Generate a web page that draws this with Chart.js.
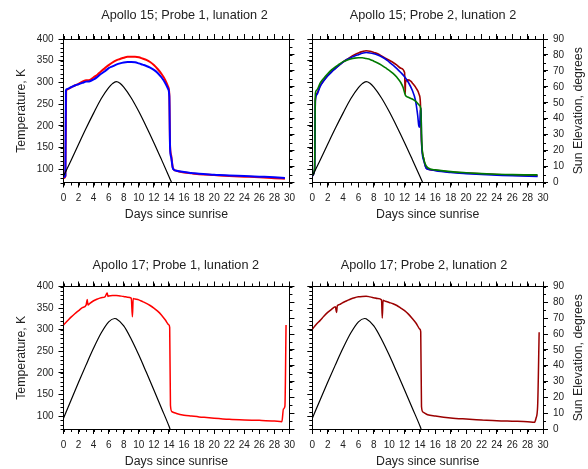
<!DOCTYPE html>
<html lang="en">
<head>
<meta charset="UTF-8">
<title>Apollo 15 / 17 heat flow probes, lunation 2</title>
<script src="https://cdn.jsdelivr.net/npm/chart.js"></script>
<style>
  body { margin: 0; background: #fff; }
  #wrap { position: relative; width: 588px; height: 469px; }
  canvas { position: absolute; }
</style>
</head>
<body>
<div id="wrap">
  <canvas id="a15p1" width="300" height="234" style="left:0px;top:0px"></canvas>
  <canvas id="a15p2" width="288" height="234" style="left:300px;top:0px"></canvas>
  <canvas id="a17p1" width="300" height="234" style="left:0px;top:235px"></canvas>
  <canvas id="a17p2" width="288" height="234" style="left:300px;top:235px"></canvas>
</div>

<script>
// tick labels
const dayTicks = [0, 2, 4, 6, 8, 10, 12, 14, 16, 18, 20, 22, 24, 26, 28, 30];
const tempTicks = [100, 150, 200, 250, 300, 350, 400];
const elevTicks = [0, 10, 20, 30, 40, 50, 60, 70, 80, 90];

// [day, K]
const a15p1Red = [[0,80],[0.25,84],[0.35,280],[0.5,284],[1,289],[1.5,293],[2,297],[2.5,302],[3,305],[3.5,306],[4,312],[4.5,318],[5,326],[5.5,333],[6,340],[6.5,346],[7,351],[7.5,354],[8,357],[8.5,359],[9,359],[9.5,359],[10,358],[10.5,355],[11,352],[11.5,347],[12,340],[12.5,331],[13,320],[13.5,306],[13.9,290],[14.05,272],[14.15,155],[14.3,132],[14.5,105],[14.7,99],[15,97],[16,93],[17,91],[18,89],[20,87],[22,85],[24,83.5],[26,82],[28,80],[29.4,78.5]];
const a15p1Blue = [[0,82],[0.25,86],[0.32,282],[0.5,285],[1,289],[1.5,293],[2,296],[2.5,299],[3,302],[3.5,303],[4,307],[4.5,313],[5,320],[5.5,326],[6,333],[6.5,337],[7,341],[7.5,344],[8,346],[8.5,347],[9,347],[9.5,346.5],[10,344],[10.5,341],[11,338],[11.5,334],[12,329],[12.5,322],[13,312],[13.5,299],[13.9,285],[14.05,268],[14.15,150],[14.3,128],[14.5,104],[14.7,99],[15,97],[16,94],[17,92],[18,90],[20,88],[22,86],[24,85],[26,83.5],[28,82],[29.4,80.5]];

const a15p2Red = [[0,85],[0.3,100],[0.4,262],[0.6,275],[1,292],[1.5,305],[2,316],[2.5,325],[3,333],[3.5,340],[4,347],[4.5,353],[5,359],[5.5,364],[6,368],[6.5,371],[7,373],[7.5,372],[8,369],[8.5,366],[9,361],[9.5,356],[10,351],[10.5,346],[11,340],[11.5,333],[12,323],[12.08,274],[12.12,300],[12.4,306],[12.8,303],[13,299],[13.5,287],[13.9,272],[14.05,255],[14.2,165],[14.5,124],[14.8,104],[15.2,100],[16,98],[18,94],[20,92],[22,90],[24,88.5],[26,87],[29.3,85.5]];
const a15p2Blue = [[0,85],[0.3,100],[0.4,258],[0.6,272],[1,290],[1.5,304],[2,315],[2.5,324],[3,332],[3.5,340],[4,347],[4.5,353],[5,357],[5.5,361],[6,364],[6.5,367],[7,369],[7.5,368],[8,366],[8.5,363],[9,359],[9.5,354],[10,347],[10.5,340],[11,332],[11.5,323],[12,313],[12.5,300],[13,282],[13.4,260],[13.7,225],[13.85,200],[13.95,197],[14.05,235],[14.15,240],[14.2,165],[14.5,120],[14.8,103],[15.2,100],[16,97],[18,93],[20,90.5],[22,88.5],[24,87],[26,85.5],[29.3,84]];
const a15p2Green = [[0,87],[0.3,102],[0.4,275],[0.6,283],[1,298],[1.5,310],[2,320],[2.5,329],[3,336],[3.5,342],[4,348],[4.5,351],[5,354],[5.5,356],[6,357],[6.5,357],[7,355],[7.5,353],[8,349],[8.5,345],[9,340],[9.5,334],[10,328],[10.5,321],[11,312],[11.5,300],[11.8,289],[12.1,271],[12.5,266],[13,262],[13.5,256],[13.9,248],[14.1,240],[14.25,158],[14.5,124],[15,104],[16,99],[18,95],[20,92.5],[22,90.5],[24,89],[26,88],[29.3,87.5]];

const a17p1Red = [[0,311],[0.5,320],[1,329],[1.5,337],[2,344],[2.5,351],[3,357],[3.15,370],[3.25,357],[3.5,361],[4,367],[4.5,371],[5,374],[5.5,376],[5.8,385],[5.9,377],[6,378],[6.5,379],[7,379],[7.5,378],[8,377],[8.5,375],[9,373],[9.15,330],[9.25,372],[9.5,371],[10,369],[10.5,365],[11,361],[11.5,356],[12,350],[12.5,343],[13,334],[13.5,323],[14,311],[14.1,305],[14.2,125],[14.4,110],[15,106],[16,102],[17,100],[18,98],[19,96.5],[20,95],[22,92.5],[24,91],[26,90],[28,88.5],[29,87],[29.2,116],[29.4,123],[29.55,311]];
const a17p2Red = [[0,301],[0.5,312],[1,321],[1.5,331],[2,340],[2.5,347],[3,353],[3.15,340],[3.25,355],[3.5,358],[4,363],[4.5,367],[5,371],[5.5,374],[6,376],[6.5,377],[7,377.5],[7.5,376],[8,374],[8.5,372],[9,369],[9.1,327],[9.2,368],[9.5,366],[10,363],[10.5,360],[11,356],[11.5,350],[12,344],[12.5,336],[13,326],[13.5,315],[14,301],[14.1,295],[14.2,122],[14.4,109],[15,103],[16,100],[18,95.5],[20,93],[22,91],[24,89],[26,88],[28,87],[28.9,85.5],[29.1,95.5],[29.3,122],[29.5,294]];

// [day, degrees] sun elevation
const a15Sun = [[0,4],[1,13.8],[2,24],[3,34],[4,43.5],[5,52.5],[6,59.5],[6.5,62],[7,63.3],[7.5,62.3],[8,59.8],[9,53],[10,44.5],[11,35],[12,25],[13,14.5],[14,3.8],[14.35,0]];
const a17Sun = [[0,6.8],[1,18.2],[2,29.5],[3,40.5],[4,51.1],[5,60.6],[6,67.7],[6.8,69.8],[7,69.6],[8,65.1],[9,56.7],[10,46.7],[11,35.8],[12,24.7],[13,13.3],[14,1.9],[14.15,0]];

const FONT = '"Liberation Sans", Arial, Helvetica, sans-serif';
const INK = '#222';

// minor ticks, panel title and upward right-hand axis title
const frameExtras = {
  id: 'frameExtras',
  afterDraw(chart, args, o) {
    const { ctx, chartArea: a } = chart;
    ctx.save();
    ctx.strokeStyle = '#000';
    ctx.lineWidth = 1;
    ctx.beginPath();
    for (const [id, step] of Object.entries(o.minor)) {
      const s = chart.scales[id];
      for (let v = s.min; v <= s.max + 1e-9; v += step) {
        const p = Math.round(s.getPixelForValue(v)) + 0.5;
        if (s.position === 'bottom') { ctx.moveTo(p, a.bottom); ctx.lineTo(p, a.bottom + 3); }
        else if (s.position === 'top') { ctx.moveTo(p, a.top); ctx.lineTo(p, a.top - 3); }
        else if (s.position === 'left') { ctx.moveTo(a.left, p); ctx.lineTo(a.left - 3, p); }
        else { ctx.moveTo(a.right, p); ctx.lineTo(a.right + 3, p); }
      }
    }
    ctx.stroke();

    ctx.fillStyle = INK;
    ctx.textAlign = 'center';
    ctx.textBaseline = 'middle';
    ctx.font = '12.7px ' + FONT;
    ctx.fillText(o.title, o.titleX, o.titleY);
    if (o.rightTitle) {
      ctx.font = '12.3px ' + FONT;
      ctx.translate(o.rightTitleX, (a.top + a.bottom) / 2);
      ctx.rotate(-Math.PI / 2);
      ctx.fillText(o.rightTitle, 0, 0);
    }
    ctx.restore();
  }
};

function frameAxis(position, min, max, ticks, showLabels, size, title) {
  const horizontal = position === 'top' || position === 'bottom';
  return {
    type: 'linear',
    position: position,
    min: min,
    max: max,
    border: { color: '#000', width: 1 },
    grid: { drawOnChartArea: false, drawTicks: true, tickLength: 5, color: '#000', lineWidth: 1 },
    ticks: { display: showLabels, autoSkip: false, maxRotation: 0, padding: 5, color: INK, font: { family: FONT, size: 10 } },
    title: title || { display: false },
    afterBuildTicks: s => { s.ticks = ticks.map(v => ({ value: v })); },
    afterFit: s => { if (horizontal) s.height = size; else s.width = size; }
  };
}

function panel(id, p) {
  const datasets = p.series.map(s => ({
    data: s.data.map(([x, y]) => ({ x: x, y: y })),
    borderColor: s.color,
    borderWidth: s.width,
    pointRadius: 0,
    fill: false,
    yAxisID: s.axis,
    cubicInterpolationMode: 'monotone'
  }));
  const left = p.labelsLeft;
  new Chart(document.getElementById(id), {
    type: 'line',
    data: { datasets: datasets },
    options: {
      responsive: false,
      animation: false,
      events: [],
      layout: { padding: { top: p.top - 5, left: 0, right: 0, bottom: 0 } },
      plugins: {
        legend: { display: false },
        tooltip: { enabled: false },
        frameExtras: {
          minor: { x: 1, xTop: 1, y: 10, y2: 5 },
          title: p.title, titleX: p.titleX, titleY: p.titleY,
          rightTitle: left ? null : 'Sun Elevation, degrees', rightTitleX: 279
        }
      },
      scales: {
        x: frameAxis('bottom', 0, 30, dayTicks, true, p.height - p.bottom, {
          display: true, text: 'Days since sunrise', color: INK,
          font: { family: FONT, size: 12.3 }, padding: { top: 0, bottom: p.xTitlePad }
        }),
        xTop: frameAxis('top', 0, 30, dayTicks, false, 5),
        y: frameAxis('left', 70, 400, tempTicks, left, p.left, left ? {
          display: true, text: 'Temperature, K', color: INK,
          font: { family: FONT, size: 12.3 }, padding: { top: 14.5, bottom: 0 }
        } : null),
        y2: frameAxis('right', 0, 90, elevTicks, !left, p.width - p.right)
      }
    },
    plugins: [frameExtras]
  });
}

panel('a15p1', {
  title: 'Apollo 15; Probe 1, lunation 2', titleX: 184.5, titleY: 15.8,
  labelsLeft: true, width: 300, height: 234, left: 63.5, right: 293.5, top: 39, bottom: 182.5, xTitlePad: 12.2,
  series: [
    { data: a15Sun, color: '#000', width: 1.2, axis: 'y2' },
    { data: a15p1Blue, color: '#0000ff', width: 2, axis: 'y' },
    { data: a15p1Red, color: '#ff0000', width: 2, axis: 'y' }
  ]
});
panel('a15p2', {
  title: 'Apollo 15; Probe 2, lunation 2', titleX: 133, titleY: 15.8,
  labelsLeft: false, width: 288, height: 234, left: 12.3, right: 243, top: 39, bottom: 182.5, xTitlePad: 12.2,
  series: [
    { data: a15Sun, color: '#000', width: 1.2, axis: 'y2' },
    { data: a15p2Green, color: '#007a00', width: 1.6, axis: 'y' },
    { data: a15p2Blue, color: '#0000dd', width: 1.6, axis: 'y' },
    { data: a15p2Red, color: '#a00000', width: 1.6, axis: 'y' }
  ]
});
panel('a17p1', {
  title: 'Apollo 17; Probe 1, lunation 2', titleX: 175.8, titleY: 30.3,
  labelsLeft: true, width: 300, height: 234, left: 63.5, right: 293.5, top: 51.5, bottom: 194, xTitlePad: 0,
  series: [
    { data: a17Sun, color: '#000', width: 1.2, axis: 'y2' },
    { data: a17p1Red, color: '#ff0000', width: 1.5, axis: 'y' }
  ]
});
panel('a17p2', {
  title: 'Apollo 17; Probe 2, lunation 2', titleX: 124, titleY: 30.3,
  labelsLeft: false, width: 288, height: 234, left: 12.3, right: 243, top: 51.5, bottom: 194, xTitlePad: 0,
  series: [
    { data: a17Sun, color: '#000', width: 1.2, axis: 'y2' },
    { data: a17p2Red, color: '#9b0000', width: 1.5, axis: 'y' }
  ]
});
</script>
</body>
</html>
